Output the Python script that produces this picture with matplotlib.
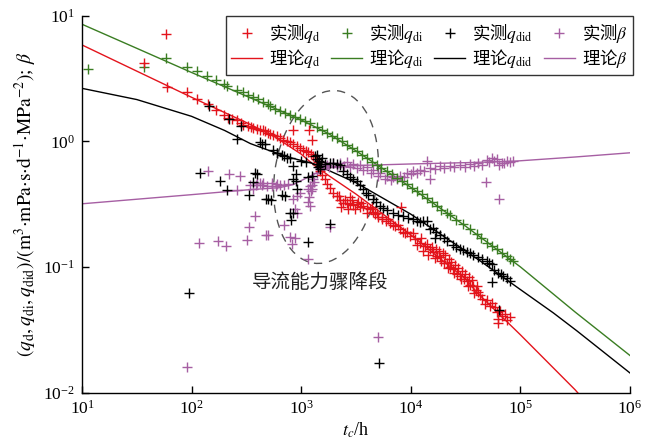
import matplotlib
matplotlib.use("Agg")
import matplotlib.pyplot as plt
from matplotlib.patches import Ellipse
from matplotlib.ticker import NullLocator

# 理论曲线
t_theo = [10, 31.6, 100, 316, 562, 1000, 1290, 1800, 3160, 10000, 31600, 40000, 100000, 316000, 400000, 1000000]
qd_theo = [5.85, 3.62, 2.24, 1.41, 1.10, 0.79, 0.653, 0.53, 0.38, 0.18, 0.080, 0.0627, 0.0288, 0.0105, 0.0083, 0.0083]
t_di_theo = [10, 31.6, 100, 316, 1000, 1780, 3160, 10000, 31600, 100000, 316000, 1000000]
qdi_theo = [8.55, 5.50, 3.53, 2.29, 1.48, 1.15, 0.84, 0.43, 0.211, 0.100, 0.0437, 0.0197]
t_did_theo = [10, 31.6, 100, 200, 343, 519, 800, 1290, 3160, 10000, 42700, 100000, 200000, 327000, 1000000]
qdid_theo = [2.64, 2.15, 1.58, 1.22, 0.96, 0.84, 0.74, 0.665, 0.468, 0.263, 0.112, 0.066, 0.043, 0.031, 0.0143]
t_b_theo = [10, 100, 316, 631, 850, 1380, 1950, 4000, 10000, 31600, 85000, 316000, 1000000]
b_theo = [0.318, 0.376, 0.41, 0.427, 0.453, 0.56, 0.63, 0.645, 0.66, 0.676, 0.693, 0.75, 0.81]

# 实测 q_d
t_qd = [37, 59, 60, 90, 111, 140, 167, 198, 216, 235,
        258, 280, 297, 330, 345, 366, 395, 421, 445, 468,
        495, 519, 555, 597, 640, 687, 740, 791, 850, 910,
        980, 1045, 1100, 1160, 1220, 1290, 1360, 1430,
        835, 1185, 1250,
        1480, 1560, 1640, 1730, 1820, 1960, 2110, 2250, 2300, 2420,
        2600, 2700, 2790, 2900, 3000, 3200, 3300, 3450, 3690, 3950,
        4250, 4500, 4710, 5050, 5420, 5900, 6460, 7200, 7980, 8900,
        9840, 11000, 12100, 13500, 15000,
        8090,
        16000, 17000, 17500, 18500, 19500, 20000, 21200, 22500, 23000, 24400,
        25500, 26500, 28100, 29500, 30500, 32400, 34000, 35000, 37200, 39000,
        41300,
        47300, 50000, 52600, 55000, 58600, 61000, 62000, 63000, 65200, 68000,
        72300, 76000, 80400,
        2200, 2500, 2800, 3100, 3500, 4000, 4400, 4900, 5500, 6200,
        6900, 7600, 8400, 9300,
        10500, 11500, 12500, 13000, 14000, 14500, 15500, 16500, 18000, 19000,
        20500, 21800, 23500, 25000, 27000, 28800, 31000, 33000, 36000, 38000,
        40000, 43000, 45000]
qd = [4.24, 7.17, 2.73, 2.45, 2.17, 1.98, 1.79, 1.63, 1.53, 1.50,
      1.47, 1.41, 1.36, 1.32, 1.30, 1.28, 1.26, 1.24, 1.22, 1.20,
      1.17, 1.15, 1.13, 1.10, 1.07, 1.03, 1.01, 0.98, 0.95, 0.91,
      0.89, 0.86, 0.84, 0.82, 0.79, 0.76, 0.72, 0.69,
      1.23, 1.23, 1.02,
      0.578, 0.54, 0.497, 0.46, 0.427, 0.39, 0.366, 0.34, 0.30, 0.324,
      0.32, 0.29, 0.315, 0.34, 0.31, 0.315, 0.33, 0.30, 0.305, 0.295,
      0.287, 0.275, 0.262, 0.25, 0.239, 0.232, 0.225, 0.21, 0.199, 0.187,
      0.176, 0.166, 0.156, 0.146, 0.138,
      0.30,
      0.132, 0.140, 0.122, 0.119, 0.128, 0.108, 0.108, 0.115, 0.100, 0.096,
      0.104, 0.088, 0.085, 0.092, 0.080, 0.077, 0.083, 0.072, 0.071, 0.066,
      0.063,
      0.051, 0.055, 0.049, 0.052, 0.0476, 0.044, 0.036, 0.0385, 0.0447, 0.041,
      0.042, 0.038, 0.0396,
      0.37, 0.34, 0.36, 0.29, 0.32, 0.27, 0.30, 0.27, 0.25, 0.24,
      0.215, 0.215, 0.19, 0.19,
      0.185, 0.150, 0.170, 0.135, 0.152, 0.125, 0.145, 0.118, 0.135, 0.112,
      0.125, 0.098, 0.110, 0.090, 0.098, 0.080, 0.088, 0.070, 0.078, 0.062,
      0.070, 0.060, 0.056]

# 实测 q_di
t_qdi = [11.4, 37, 59, 90, 113, 137, 167, 198, 209, 258,
         297, 330, 366, 406, 451, 501, 519, 580, 641, 710,
         791, 880, 975, 1090, 1200, 1380, 1540, 1710, 1900, 2110,
         2350, 2600, 2900, 3200, 3550, 3960, 4400, 4890, 5400, 6030,
         6700, 7430, 8300, 9180, 10200, 11300, 12600, 14000, 15500, 17200,
         19000, 21200, 22800, 26000, 30200, 34500, 39900, 44000, 49200, 54500,
         60800, 67500, 75000, 81000, 86100]
qdi = [3.76, 3.94, 4.59, 3.89, 3.60, 3.32, 3.09, 2.87, 2.77, 2.57,
       2.45, 2.35, 2.25, 2.17, 2.07, 1.99, 1.91, 1.82, 1.74, 1.67,
       1.61, 1.55, 1.50, 1.45, 1.41, 1.31, 1.24, 1.17, 1.11, 1.06,
       1.00, 0.94, 0.88, 0.83, 0.78, 0.74, 0.69, 0.65, 0.61, 0.578,
       0.545, 0.513, 0.48, 0.453, 0.425, 0.401, 0.378, 0.356, 0.33, 0.305,
       0.285, 0.268, 0.258, 0.238, 0.218, 0.199, 0.182, 0.169, 0.156, 0.146,
       0.138, 0.129, 0.122, 0.116, 0.112]

# 实测 q_did
t_qdid = [95, 119, 145, 181, 212, 220, 258, 285, 333, 361,
          378, 398, 421, 440, 463, 474, 498, 535, 556, 597,
          606, 664, 670, 693, 708, 738, 791, 794, 802, 835,
          847, 849, 891, 897, 910, 1000, 1100, 1160, 1160, 1250,
          1350, 1380, 1400, 1420, 1450, 1480, 1500, 1520, 1550, 1400,
          1650, 1820, 1820, 1950, 2100, 2250, 2420, 2600, 2790, 3000,
          3200, 3450, 3690, 3900, 4100, 4550, 4800, 5160, 5210, 5600,
          6030, 6920, 7700, 8560, 9500, 10500, 11300, 12100, 13000, 14000,
          15000, 16000, 16700, 17000, 18500, 20000, 21200, 24400, 26000, 28100,
          30000, 32400, 35000, 37200, 41300, 45000, 49200, 52000, 54600, 55200,
          58000, 63000, 64300, 67000, 70000, 75000, 80400]
qdid = [0.0617, 0.555, 1.92, 0.479, 0.406, 1.50, 1.04, 1.32, 0.373, 0.471,
        0.561, 0.547, 0.98, 0.95, 0.96, 0.349, 0.349, 0.339, 0.86, 0.81,
        0.80, 0.371, 0.78, 0.76, 0.367, 0.74, 0.267, 0.73, 0.236, 0.504,
        0.634, 0.27, 0.551, 0.482, 0.419, 0.70, 0.68, 0.521, 0.158, 0.534,
        0.76, 0.72, 0.66, 0.62, 0.70, 0.64, 0.60, 0.68, 0.73, 0.78,
        0.66, 0.675, 0.218, 0.67, 0.66, 0.653, 0.578, 0.55, 0.521, 0.50,
        0.482, 0.45, 0.414, 0.39, 0.371, 0.345, 0.33, 0.0171, 0.305, 0.295,
        0.283, 0.267, 0.26, 0.254, 0.245, 0.239, 0.233, 0.227, 0.232, 0.23,
        0.20, 0.205, 0.169, 0.19, 0.179, 0.17, 0.161, 0.149, 0.145, 0.14,
        0.136, 0.132, 0.128, 0.124, 0.119, 0.115, 0.112, 0.108, 0.105, 0.076,
        0.095, 0.090, 0.0453, 0.088, 0.085, 0.081, 0.077]

# 实测 beta
t_b = [90, 117, 140, 175, 205, 219, 258, 277, 320, 335,
       366, 378, 393, 420, 451, 477, 502, 538, 597, 690,
       791, 819, 885, 875, 910, 847, 910, 975, 1160, 1250,
       1200, 1200, 1160, 1820, 4990,
       340, 390, 440, 490, 540, 590, 640, 700, 760,
       1150, 1180, 1220, 1260, 1300,
       1290, 1380, 1480, 1600, 1710, 1960, 2250, 2600, 2990, 3430,
       3960, 4530, 5210, 6030, 6920, 7980, 9180, 10500, 12100, 15000,
       18500, 22800, 28100, 34700, 41300, 49200, 54600, 60800, 67500, 75000,
       85000,
       1800, 2100, 2450, 2800, 3200, 3700, 4300, 5000, 5800, 6600,
       7500, 8600, 10000, 11500, 13300, 16500, 20000, 25000, 31000, 38000,
       45000, 52000, 58000, 64000, 71000, 80000,
       14000, 15000, 48400, 64300]
b_meas = [0.0159, 0.156, 0.58, 0.16, 0.146, 0.545, 0.409, 0.534, 0.165, 0.209,
          0.419, 0.254, 0.468, 0.468, 0.468, 0.18, 0.18, 0.468, 0.453, 0.215,
          0.174, 0.151, 0.171, 0.287, 0.27, 0.345, 0.366, 0.389, 0.414, 0.414,
          0.437, 0.305, 0.115, 0.206, 0.0275,
          0.447, 0.447, 0.447, 0.44, 0.44, 0.44, 0.447, 0.45, 0.46,
          0.33, 0.36, 0.40, 0.45, 0.47,
          0.497, 0.561, 0.615, 0.64, 0.653, 0.674, 0.674, 0.681, 0.665, 0.653,
          0.627, 0.596, 0.561, 0.534, 0.521, 0.534, 0.555, 0.578, 0.596, 0.615,
          0.641, 0.634, 0.646, 0.658, 0.674, 0.707, 0.738, 0.724, 0.674, 0.693,
          0.703,
          0.62, 0.63, 0.64, 0.62, 0.61, 0.59, 0.56, 0.53, 0.50, 0.49,
          0.50, 0.52, 0.55, 0.56, 0.58, 0.60, 0.61, 0.62, 0.63, 0.64,
          0.65, 0.69, 0.70, 0.65, 0.67, 0.68,
          0.693, 0.497, 0.476, 0.345]

red = "#e3141c"
green = "#3a7d22"
purple = "#a65fa3"

plt.rcParams["mathtext.fontset"] = "stix"
plt.rcParams["font.family"] = ["Liberation Serif", "Noto Sans CJK SC"]

fig = plt.figure(figsize=(6.61, 4.48), dpi=100)
ax = fig.add_axes([82 / 661, (448 - 392.5) / 448, (630 - 82) / 661, (392.5 - 15.7) / 448])

# 理论线
l_d, = ax.plot(t_theo, qd_theo, color=red, lw=1.0, label="理论$q_{\\rm d}$")
l_di, = ax.plot(t_di_theo, qdi_theo, color=green, lw=1.0, label="理论$q_{\\rm di}$")
l_did, = ax.plot(t_did_theo, qdid_theo, color="black", lw=1.0, label="理论$q_{\\rm did}$")
l_b, = ax.plot(t_b_theo, b_theo, color=purple, lw=1.0, label="理论$\\beta$")

# 实测点
mk = dict(ls="none", marker="+", ms=6.5, mew=1.0)
m_b, = ax.plot(t_b, b_meas, color=purple, label="实测$\\beta$", **mk)
m_di, = ax.plot(t_qdi, qdi, color=green, label="实测$q_{\\rm di}$", **mk)
m_d, = ax.plot(t_qd, qd, color=red, label="实测$q_{\\rm d}$", **mk)
m_did, = ax.plot(t_qdid, qdid, color="black", label="实测$q_{\\rm did}$", **mk)

ax.set_xscale("log")
ax.set_yscale("log")
ax.set_xlim(10, 1e6)
ax.set_ylim(0.01, 10)
ax.xaxis.set_minor_locator(NullLocator())
ax.yaxis.set_minor_locator(NullLocator())
ax.spines["top"].set_visible(False)
ax.spines["right"].set_visible(False)
for s in ["left", "bottom"]:
    ax.spines[s].set_linewidth(1.0)
ax.tick_params(direction="in", length=5, width=1.0, labelsize=12.5, pad=5)

ax.set_xlabel("$t_c$/h", fontsize=13, labelpad=2)
ax.set_ylabel("$(q_{\\rm d}, q_{\\rm di}, q_{\\rm did})/(\\rm m^3{\\cdot}mPa{\\cdot}s{\\cdot}d^{-1}{\\cdot}MPa^{-2})$; $\\beta$",
              fontsize=14, labelpad=4)

handles = [m_d, l_d, m_di, l_di, m_did, l_did, m_b, l_b]
leg = ax.legend(handles=handles, ncol=4, loc="upper right", bbox_to_anchor=(1.005, 1.0),
                borderaxespad=0, prop=dict(family="Noto Sans CJK SC", size=12.5),
                frameon=True, fancybox=False,
                edgecolor="black", handlelength=1.8, handletextpad=0.4,
                columnspacing=0.6, labelspacing=0.1, borderpad=0.3)
leg.get_frame().set_linewidth(1.0)

# 虚线椭圆
ell = Ellipse((3.26, 2.71), 1.03, 1.74, angle=-8, transform=fig.dpi_scale_trans,
              fill=False, edgecolor="#555555", lw=1.0, ls=(0, (6, 5)))
ax.add_patch(ell)

ax.text(1486, 0.0757, "导流能力骤降段", fontsize=14, ha="center", va="center",
        family=["Noto Sans CJK SC"], color="#222222")

fig.savefig("out.png", dpi=100)
